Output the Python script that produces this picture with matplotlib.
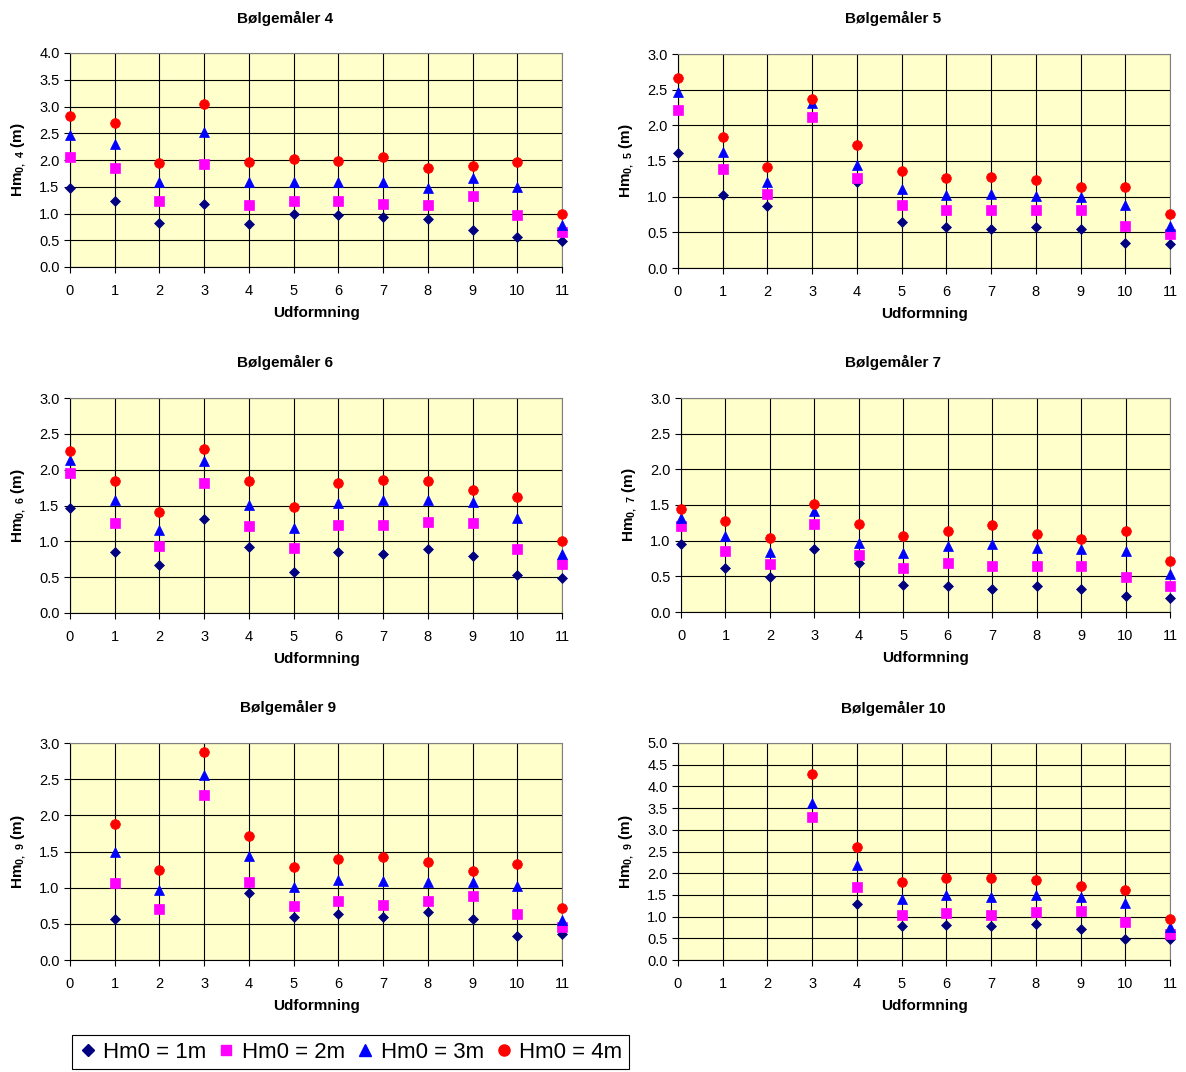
import numpy as np
import matplotlib
matplotlib.use("Agg")
import matplotlib.pyplot as plt
from matplotlib.lines import Line2D

plt.rcParams["font.family"] = ["Liberation Sans", "DejaVu Sans"]
plt.rcParams["mathtext.fontset"] = "custom"
plt.rcParams["mathtext.rm"] = "Liberation Sans"
plt.rcParams["mathtext.bf"] = "Liberation Sans:bold"

nan = np.nan
udformning = list(range(12))
series_labels = ["Hm0 = 1m", "Hm0 = 2m", "Hm0 = 3m", "Hm0 = 4m"]

# Bølgemåler 4
bm4_1 = [1.47, 1.23, 0.82, 1.17, 0.80, 1.00, 0.98, 0.94, 0.90, 0.69, 0.57, 0.49]
bm4_2 = [2.05, 1.85, 1.24, 1.93, 1.16, 1.24, 1.24, 1.18, 1.16, 1.32, 0.97, 0.66]
bm4_3 = [2.47, 2.30, 1.59, 2.53, 1.59, 1.59, 1.59, 1.59, 1.48, 1.67, 1.50, 0.79]
bm4_4 = [2.82, 2.69, 1.95, 3.04, 1.97, 2.01, 1.99, 2.05, 1.85, 1.89, 1.97, 0.99]

# Bølgemåler 5
bm5_1 = [1.61, 1.03, 0.87, nan, 1.20, 0.65, 0.58, 0.55, 0.58, 0.54, 0.35, 0.34]
bm5_2 = [2.22, 1.39, 1.04, 2.12, 1.26, 0.89, 0.82, 0.81, 0.82, 0.81, 0.59, 0.48]
bm5_3 = [2.47, 1.62, 1.21, 2.31, 1.44, 1.11, 1.03, 1.04, 1.01, 1.00, 0.88, 0.59]
bm5_4 = [2.67, 1.84, 1.42, 2.37, 1.72, 1.36, 1.26, 1.27, 1.23, 1.14, 1.14, 0.76]

# Bølgemåler 6
bm6_1 = [1.46, 0.85, 0.67, 1.31, 0.92, 0.57, 0.85, 0.83, 0.89, 0.79, 0.53, 0.49]
bm6_2 = [1.96, 1.26, 0.93, 1.81, 1.22, 0.91, 1.23, 1.23, 1.27, 1.25, 0.90, 0.68]
bm6_3 = [2.13, 1.57, 1.16, 2.12, 1.51, 1.19, 1.54, 1.58, 1.58, 1.55, 1.32, 0.83]
bm6_4 = [2.26, 1.84, 1.41, 2.29, 1.84, 1.48, 1.81, 1.85, 1.84, 1.71, 1.62, 1.01]

# Bølgemåler 7
bm7_1 = [0.95, 0.62, 0.49, 0.89, 0.68, 0.38, 0.37, 0.32, 0.37, 0.32, 0.22, 0.19]
bm7_2 = [1.20, 0.85, 0.67, 1.24, 0.80, 0.61, 0.69, 0.64, 0.64, 0.64, 0.49, 0.36]
bm7_3 = [1.32, 1.06, 0.84, 1.41, 0.97, 0.83, 0.93, 0.95, 0.90, 0.88, 0.85, 0.53]
bm7_4 = [1.45, 1.27, 1.04, 1.52, 1.23, 1.07, 1.14, 1.22, 1.10, 1.02, 1.14, 0.71]

# Bølgemåler 9
bm9_1 = [nan, 0.57, nan, nan, 0.93, 0.59, 0.63, 0.60, 0.66, 0.56, 0.33, 0.36]
bm9_2 = [nan, 1.07, 0.70, 2.28, 1.08, 0.75, 0.82, 0.76, 0.82, 0.88, 0.64, 0.46]
bm9_3 = [nan, 1.49, 0.97, 2.56, 1.44, 1.01, 1.11, 1.09, 1.08, 1.08, 1.02, 0.55]
bm9_4 = [nan, 1.88, 1.25, 2.88, 1.72, 1.28, 1.39, 1.42, 1.35, 1.23, 1.33, 0.72]

# Bølgemåler 10
bm10_1 = [nan, nan, nan, nan, 1.29, 0.79, 0.81, 0.79, 0.84, 0.72, 0.48, 0.48]
bm10_2 = [nan, nan, nan, 3.29, 1.68, 1.04, 1.08, 1.04, 1.11, 1.14, 0.87, 0.60]
bm10_3 = [nan, nan, nan, 3.61, 2.18, 1.40, 1.50, 1.45, 1.50, 1.45, 1.32, 0.76]
bm10_4 = [nan, nan, nan, 4.29, 2.60, 1.80, 1.89, 1.89, 1.84, 1.70, 1.61, 0.94]

W, H = 1186, 1072
fig = plt.figure(figsize=(W / 100, H / 100), dpi=100)
fig.patch.set_facecolor("white")

# marker style per wave height: (marker, colour, size)
styles = [("D", "#000080", 5.5), ("s", "#FF00FF", 6.5), ("^", "#0000FF", 7.5), ("o", "#FF0000", 7.0)]

# panel: title, ylabel index, series, ymax, pixel box (left, top, right, bottom), title x, title y
panels = [
    ("Bølgemåler 4", "4", [bm4_1, bm4_2, bm4_3, bm4_4], 4.0, (70, 53, 562, 267), 285, 18),
    ("Bølgemåler 5", "5", [bm5_1, bm5_2, bm5_3, bm5_4], 3.0, (678, 54, 1170, 268), 893, 18),
    ("Bølgemåler 6", "6", [bm6_1, bm6_2, bm6_3, bm6_4], 3.0, (70, 398, 562, 613), 285, 362),
    ("Bølgemåler 7", "7", [bm7_1, bm7_2, bm7_3, bm7_4], 3.0, (681, 398, 1170, 612), 893, 362),
    ("Bølgemåler 9", "9", [bm9_1, bm9_2, bm9_3, bm9_4], 3.0, (70, 743, 562, 960), 288, 707),
    ("Bølgemåler 10", "9", [bm10_1, bm10_2, bm10_3, bm10_4], 5.0, (678, 743, 1170, 960), 893, 708),
]

for title, idx, series, ymax, (l, t, r, b), tx, ty in panels:
    ax = fig.add_axes([l / W, 1 - b / H, (r - l) / W, (b - t) / H])
    ax.set_facecolor("#FFFFCC")
    for vals, (m, c, ms) in zip(series, styles):
        ax.plot(udformning, vals, linestyle="none", marker=m, color=c,
                markersize=ms, markeredgewidth=0.5, clip_on=False, zorder=3)
    ax.set_xlim(0, 11)
    ax.set_ylim(0, ymax)
    ax.set_xticks(udformning)
    ax.set_yticks(np.arange(0, ymax + 0.01, 0.5))
    ax.yaxis.set_major_formatter(matplotlib.ticker.FormatStrFormatter("%.1f"))
    ax.grid(True, color="black", linewidth=0.8, zorder=1)
    ax.set_axisbelow(True)
    ax.tick_params(axis="both", labelsize=10.5, length=4, width=0.8, color="black", direction="out")
    ax.tick_params(axis="x", pad=8)
    for side in ("top", "right"):
        ax.spines[side].set_color("#808080")
        ax.spines[side].set_linewidth(0.8)
    for side in ("left", "bottom"):
        ax.spines[side].set_color("black")
        ax.spines[side].set_linewidth(0.8)
    ax.set_xlabel("Udformning", fontsize=11, fontweight="bold", labelpad=6)
    ax.set_ylabel(r"$\mathbf{Hm_{0,\ " + idx + r"}}$ $\mathbf{(m)}$", fontsize=11, labelpad=8)
    fig.text(tx / W, 1 - ty / H, title, ha="center", va="center",
             fontsize=11, fontweight="bold")

handles = [Line2D([], [], linestyle="none", marker=m, color=c, markersize=ms + 1)
           for (m, c, ms) in styles]
leg = fig.legend(handles, series_labels, loc="upper left",
                 bbox_to_anchor=(72 / W, 1 - 1035 / H), ncol=4, fontsize=16,
                 frameon=True, fancybox=False, edgecolor="black", framealpha=1,
                 handlelength=0.8, handletextpad=0.3, columnspacing=0.5,
                 borderpad=0.3, borderaxespad=0)
leg.get_frame().set_linewidth(0.8)

fig.savefig("out.png", dpi=100)
